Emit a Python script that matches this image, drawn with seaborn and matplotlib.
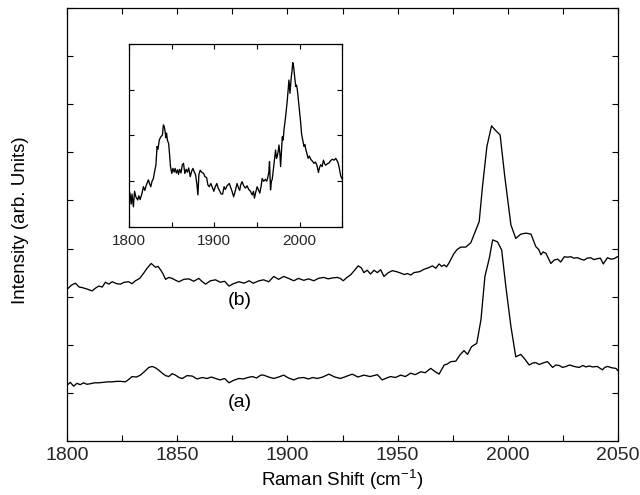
import matplotlib
matplotlib.use("Agg")
import matplotlib.pyplot as plt
import seaborn as sns
import pandas as pd
from matplotlib.ticker import MultipleLocator, FixedLocator, NullFormatter, FixedFormatter

# ---------------- data ----------------
b_x = [1800, 1802, 1803.8, 1805.5, 1806.8, 1809, 1811.4, 1813, 1814.4, 1816, 1817.4, 1819, 1820.5,
       1822.5, 1824.2, 1826, 1828, 1829.5, 1831, 1833, 1834.8, 1836.5, 1838.2, 1840.2, 1841.3, 1842.4,
       1843.5, 1844.7, 1846.2, 1847.7, 1849.3, 1850.8, 1853, 1855.3, 1857.5, 1859.8, 1861.4, 1862.9,
       1865, 1867.4, 1869.5, 1871.5, 1873.5, 1875.5, 1878, 1880.3, 1882.6, 1884.5, 1887.1, 1889.2,
       1891.5, 1893.8, 1896, 1898.3, 1900.5, 1902.9, 1905, 1907.4, 1909.6, 1912, 1914, 1916.5, 1918.5,
       1920.5, 1922.6, 1924, 1925.3, 1927, 1928.6, 1930.5, 1932.1, 1933.5, 1934.7, 1936.2, 1937.7,
       1939.3, 1940.8, 1942.3, 1943.8, 1945.8, 1947.6, 1949.5, 1951.4, 1953, 1954.4, 1956, 1957.4,
       1960, 1962, 1964, 1965.8, 1967.3, 1968.8, 1970, 1971.1, 1972.2, 1973.3, 1975.6, 1977, 1978.6,
       1980.9, 1983.2, 1985.5, 1987, 1988.5, 1990.5, 1992.6, 1994.5, 1996.5, 1998.6, 2001.4, 2003.6,
       2005.9, 2008.2, 2010.5, 2012.7, 2014, 2015, 2016, 2017.3, 2019.5, 2021, 2022.6, 2024, 2025.6,
       2027, 2028.6, 2030, 2031.6, 2033, 2034.6, 2036, 2037.6, 2039, 2040.6, 2042, 2043.3, 2045.2,
       2046.7, 2048.2, 2049.7, 2050]
b_y = [3.15, 3.24, 3.28, 3.20, 3.19, 3.16, 3.12, 3.18, 3.22, 3.20, 3.30, 3.26, 3.31,
       3.27, 3.26, 3.30, 3.31, 3.27, 3.33, 3.38, 3.49, 3.60, 3.69, 3.61, 3.63, 3.56,
       3.48, 3.36, 3.40, 3.38, 3.34, 3.31, 3.36, 3.37, 3.32, 3.38, 3.31, 3.26,
       3.33, 3.35, 3.30, 3.32, 3.22, 3.27, 3.31, 3.28, 3.33, 3.28, 3.33, 3.35,
       3.31, 3.42, 3.36, 3.42, 3.38, 3.33, 3.38, 3.34, 3.37, 3.33, 3.38, 3.40, 3.37,
       3.39, 3.40, 3.38, 3.33, 3.40, 3.45, 3.55, 3.64, 3.60, 3.50, 3.55, 3.47,
       3.55, 3.50, 3.56, 3.42, 3.50, 3.54, 3.52, 3.49, 3.46, 3.48, 3.45, 3.50,
       3.52, 3.57, 3.60, 3.64, 3.59, 3.68, 3.63, 3.66, 3.62, 3.70, 3.90, 3.98, 4.03,
       4.03, 4.12, 4.39, 4.56, 5.29, 6.12, 6.55, 6.45, 6.36, 5.50, 4.49, 4.21,
       4.30, 4.32, 4.30, 4.04, 3.98, 3.87, 3.93, 3.90, 3.69, 3.76, 3.78, 3.72, 3.83,
       3.82, 3.83, 3.80, 3.81, 3.78, 3.76, 3.80, 3.81, 3.77, 3.79, 3.80, 3.68, 3.81,
       3.78, 3.79, 3.83, 3.83]

a_x = [1800, 1801.5, 1803, 1804.5, 1806, 1807.5, 1809, 1810.5, 1812.5, 1814.4, 1816.5, 1818.5,
       1820.5, 1822.5, 1824.5, 1826.5, 1828, 1829.5, 1831.5, 1833.3, 1835.3, 1837.1, 1838.7, 1840.2,
       1841.7, 1843.2, 1844.7, 1846.2, 1847.7, 1849.2, 1850.8, 1852.3, 1854.5, 1856.8, 1859, 1861.4,
       1863.5, 1865.5, 1867.4, 1869.5, 1871.5, 1873.5, 1875.5, 1878, 1880, 1882, 1884.1, 1886,
       1887.9, 1889.2, 1891.5, 1893.8, 1896, 1898.3, 1900.5, 1902.9, 1905, 1907.4, 1909.5, 1911.5,
       1913.5, 1916, 1918.8, 1921.5, 1924.1, 1926.5, 1929.4, 1932, 1934.7, 1937.5, 1940.8, 1943,
       1945, 1946.8, 1949, 1951.4, 1953.5, 1955.9, 1958, 1960.5, 1962.5, 1965, 1966.8, 1968.8,
       1971.1, 1972.5, 1974.1, 1976.4, 1978.3, 1980.1, 1981.7, 1983.5, 1985.9, 1987.8, 1989.6,
       1991.6, 1993.1, 1995.3, 1997.2, 1999.1, 2001.4, 2003.6, 2005.9, 2007.4, 2009.7, 2011.2,
       2012.7, 2014.2, 2015.8, 2018, 2020.3, 2021.8, 2023.3, 2024.8, 2026.4, 2028, 2029.4, 2031,
       2032.4, 2034, 2035.4, 2037, 2038.4, 2040.6, 2042.9, 2044, 2045.2, 2047.4, 2049, 2050]
a_y = [1.16, 1.22, 1.14, 1.20, 1.17, 1.21, 1.18, 1.19, 1.21, 1.21, 1.22, 1.23,
       1.23, 1.24, 1.24, 1.23, 1.28, 1.34, 1.33, 1.37, 1.45, 1.53, 1.55, 1.52,
       1.47, 1.41, 1.36, 1.34, 1.40, 1.37, 1.32, 1.30, 1.36, 1.35, 1.29, 1.32,
       1.30, 1.33, 1.30, 1.27, 1.30, 1.21, 1.26, 1.30, 1.29, 1.32, 1.34, 1.31,
       1.37, 1.37, 1.33, 1.30, 1.33, 1.37, 1.31, 1.27, 1.31, 1.32, 1.29, 1.32,
       1.30, 1.33, 1.39, 1.33, 1.30, 1.34, 1.39, 1.33, 1.37, 1.34, 1.38, 1.27,
       1.31, 1.34, 1.32, 1.37, 1.34, 1.41, 1.38, 1.44, 1.42, 1.51, 1.45, 1.39,
       1.58, 1.60, 1.65, 1.66, 1.79, 1.88, 1.80, 1.96, 2.03, 2.52, 3.42,
       3.80, 4.18, 4.14, 3.97, 3.21, 2.38, 1.75, 1.80, 1.72, 1.58, 1.62,
       1.63, 1.59, 1.62, 1.65, 1.53, 1.58, 1.57, 1.53, 1.55, 1.58, 1.56, 1.54,
       1.53, 1.57, 1.54, 1.56, 1.54, 1.55, 1.48, 1.53, 1.55, 1.52, 1.51, 1.46]

inset_x = [1800, 1801, 1802.5, 1803.5, 1805.1, 1806.5, 1808, 1810.2, 1811.5, 1813, 1815, 1816.9,
           1818.5, 1820, 1822.7, 1824, 1825.5, 1827, 1828.6, 1830, 1831.5, 1832.9, 1834, 1835.5,
           1837, 1839.2, 1840.3, 1841.2, 1842.2, 1843.2, 1844, 1845, 1846.5, 1847.5, 1848.6, 1850.2,
           1851.5, 1853, 1854.1, 1855.5, 1857, 1858, 1859.5, 1861, 1862.5, 1863.9, 1865.5, 1867,
           1868.5, 1870, 1871.8, 1873.5, 1875, 1876.5, 1878, 1879.5, 1880.8, 1882, 1883.5, 1885,
           1887.5, 1889, 1891, 1892.5, 1894.1, 1896, 1898, 1899.5, 1901.2, 1903, 1904.5, 1906,
           1908, 1909.8, 1911.5, 1913, 1915, 1917.6, 1919, 1920.5, 1922.7, 1924.5, 1926.7, 1928.5,
           1929.8, 1931, 1932.6, 1934.5, 1936.5, 1938.5, 1940.4, 1942.5, 1944.4, 1946, 1947.1,
           1948.5, 1950.3, 1952, 1953.4, 1955, 1956.2, 1958, 1960.1, 1961.5, 1962.8, 1964, 1964.8,
           1966, 1967, 1968, 1969, 1970, 1971.9, 1973, 1973.9, 1975, 1975.9, 1977, 1977.8, 1979,
           1979.8, 1980.8, 1981.8, 1983.7, 1985.7, 1987.6, 1988.8, 1990.4, 1991.2, 1992, 1992.8,
           1993.5, 1994.5, 1995.5, 1996.5, 1997.5, 1998.5, 1999.4, 2000.4, 2001.4, 2002.3, 2003.3,
           2004.3, 2005.3, 2006.3, 2007.3, 2008.5, 2010, 2011.5, 2013.1, 2015, 2017.1, 2018.5,
           2020.2, 2021, 2022.2, 2023.5, 2024.9, 2026.5, 2028.1, 2029.5, 2030.8, 2032.5, 2034.7,
           2036.5, 2038.6, 2040.5, 2042.5, 2044, 2045.3, 2046.5, 2048.4, 2050]
inset_y = [0.59, 0.75, 0.50, 0.72, 0.44, 0.78, 0.66, 0.59, 0.68, 0.60, 0.72, 0.88,
           0.80, 0.90, 1.03, 0.95, 0.88, 1.00, 1.06, 1.21, 1.35, 1.76, 1.70, 1.90,
           1.96, 2.01, 2.23, 2.20, 2.10, 1.95, 2.05, 1.90, 1.82, 1.60, 1.32, 1.17,
           1.28, 1.20, 1.28, 1.18, 1.25, 1.15, 1.26, 1.18, 1.36, 1.39, 1.17, 1.26,
           1.20, 1.29, 1.10, 1.22, 1.28, 1.20, 1.15, 0.95, 0.70, 1.15, 1.24, 1.20,
           1.17, 1.10, 1.08, 0.92, 0.88, 0.95, 0.85, 0.78, 0.88, 0.95, 0.85, 0.80,
           0.72, 0.72, 0.88, 0.82, 0.90, 0.95, 0.88, 0.80, 0.66, 0.78, 0.95, 0.85,
           0.80, 0.92, 0.99, 0.90, 0.85, 0.90, 0.82, 0.78, 0.70, 0.78, 0.63,
           0.75, 0.88, 0.80, 0.74, 0.90, 1.06, 1.00, 1.04, 1.00, 1.08, 1.20, 1.43,
           0.81, 1.00, 1.04, 1.20, 1.36, 1.68, 1.50, 1.55, 1.65, 1.79, 1.60, 1.32, 1.70,
           1.97, 1.90, 2.13, 2.41, 2.78, 3.21, 2.92, 3.29, 3.40, 3.59, 3.55,
           3.43, 3.25, 3.07, 3.10, 2.99, 2.80, 2.63, 2.45, 2.27, 2.05, 1.94,
           1.85, 1.76, 1.80, 1.70, 1.62, 1.50, 1.55, 1.48, 1.44, 1.39, 1.42,
           1.36, 1.30, 1.19, 1.30, 1.36, 1.32, 1.46, 1.38, 1.35, 1.38, 1.40,
           1.45, 1.48, 1.46, 1.50, 1.45, 1.40, 1.30, 1.11, 1.05]

main_xticks = [1800, 1850, 1900, 1950, 2000, 2050]
inset_xticks = [1800, 1850, 1900, 1950, 2000, 2050]
inset_xticklabels = ["1800", "", "1900", "", "2000", ""]
curve_labels = ["(a)", "(b)"]
x_label = "Raman Shift (cm$^{-1}$)"
y_label = "Intensity (arb. Units)"

# ---------------- style ----------------
sns.set_theme(style="ticks")
plt.rcParams['font.family'] = ['Liberation Sans', 'DejaVu Sans']
plt.rcParams['mathtext.fontset'] = 'custom'
plt.rcParams['mathtext.rm'] = 'Liberation Sans'
plt.rcParams['mathtext.it'] = 'Liberation Sans:italic'
plt.rcParams['mathtext.default'] = 'regular'
plt.rcParams['axes.linewidth'] = 0.9

df_a = pd.DataFrame({"x": a_x, "y": a_y})
df_b = pd.DataFrame({"x": b_x, "y": b_y})
df_in = pd.DataFrame({"x": inset_x, "y": inset_y})

fig = plt.figure(figsize=(6.4, 4.95), dpi=100)
fig.patch.set_facecolor("white")

ax = fig.add_axes([0.1047, 0.109, 0.861, 0.875])
sns.lineplot(data=df_b, x="x", y="y", ax=ax, color="black", lw=0.95, estimator=None, sort=False)
sns.lineplot(data=df_a, x="x", y="y", ax=ax, color="black", lw=0.95, estimator=None, sort=False)
ax.set_xlim(1800, 2050)
ax.set_ylim(0, 9)
ax.xaxis.set_major_locator(FixedLocator(main_xticks))
ax.xaxis.set_minor_locator(MultipleLocator(25))
ax.yaxis.set_major_locator(MultipleLocator(1))
ax.yaxis.set_major_formatter(NullFormatter())
ax.tick_params(which="both", direction="in", top=True, right=True, length=4, width=0.8,
               color="black", labelsize=14, pad=4)
ax.set_xlabel(x_label, fontsize=13.5, color="black", labelpad=3)
ax.set_ylabel(y_label, fontsize=13.5, color="black")
ax.yaxis.set_label_coords(-0.069, 0.51)
for s in ax.spines.values():
    s.set_color("black")

ax.text(1878.5, 2.93, curve_labels[1], fontsize=14, ha="center", va="center", color="black")
ax.text(1878.5, 0.81, curve_labels[0], fontsize=14, ha="center", va="center", color="black")

axin = fig.add_axes([0.2016, 0.5414, 0.333, 0.37])
sns.lineplot(data=df_in, x="x", y="y", ax=axin, color="black", lw=0.95, estimator=None, sort=False)
axin.set_xlim(1800, 2050)
axin.set_ylim(0, 4)
axin.xaxis.set_major_locator(FixedLocator(inset_xticks))
axin.xaxis.set_major_formatter(FixedFormatter(inset_xticklabels))
axin.yaxis.set_major_locator(MultipleLocator(1))
axin.yaxis.set_major_formatter(NullFormatter())
axin.tick_params(which="both", direction="in", top=True, right=True, length=3.5, width=0.8,
                 color="black", labelsize=11, pad=5)
axin.set_xlabel("")
axin.set_ylabel("")
for s in axin.spines.values():
    s.set_color("black")

fig.savefig("out.png", dpi=100)
